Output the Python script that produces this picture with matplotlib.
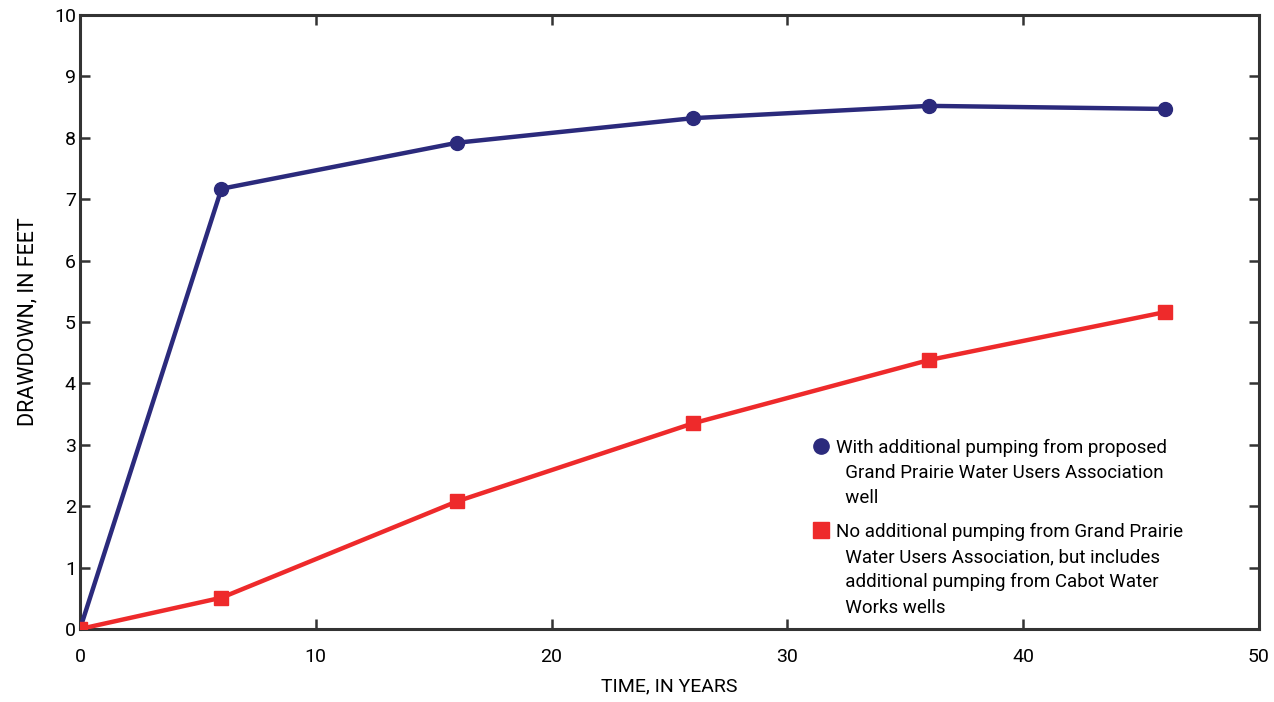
import matplotlib.pyplot as plt
from matplotlib.lines import Line2D

years = [0, 6, 16, 26, 36, 46]
with_gpwua = [0, 7.17, 7.92, 8.32, 8.52, 8.47]
without_gpwua = [0, 0.51, 2.08, 3.35, 4.38, 5.16]

label_with = ["With additional pumping from proposed",
              "  Grand Prairie Water Users Association",
              "  well"]
label_without = ["No additional pumping from Grand Prairie",
                 "  Water Users Association, but includes",
                 "  additional pumping from Cabot Water",
                 "  Works wells"]

navy = "#2b2a7c"
red = "#ee2a2b"

plt.rcParams['font.family'] = ['Roboto', 'DejaVu Sans']

fig = plt.figure(figsize=(12.74, 7.02), dpi=100)
ax = fig.add_axes([80 / 1274, 1 - 629 / 702, (1259 - 80) / 1274, (629 - 15) / 702])

ax.plot(years, with_gpwua, color=navy, lw=3.2, marker='o', ms=10, zorder=3)
ax.plot(years, without_gpwua, color=red, lw=3.2, marker='s', ms=10, zorder=4)

ax.set_xlim(0, 50)
ax.set_ylim(0, 10)
ax.set_xticks(range(0, 51, 10))
ax.set_yticks(range(0, 11))
ax.tick_params(direction='in', length=7, width=1.8, labelsize=14, color='#333333',
               top=True, right=True)
ax.tick_params(axis='x', pad=14)
ax.tick_params(axis='y', pad=3)
for s in ax.spines.values():
    s.set_linewidth(2.2)
    s.set_color('#333333')
ax.set_xlabel("TIME, IN YEARS", fontsize=14, labelpad=8)
ax.set_ylabel("DRAWDOWN, IN FEET", fontsize=15.5, labelpad=11)


def entry_legend(marker, color, lines, top):
    # one row per text line, marker only on the first line
    handles = [Line2D([], [], ls='none', marker=marker, ms=11, color=color)]
    handles += [Line2D([], [], ls='none') for _ in lines[1:]]
    return ax.legend(handles, lines, loc='upper left', bbox_to_anchor=(0.611, top),
                     frameon=False, fontsize=13.5, handletextpad=0.2, handlelength=1.2,
                     labelspacing=0.38, borderpad=0)


leg1 = entry_legend('o', navy, label_with, 0.325)
ax.add_artist(leg1)
entry_legend('s', red, label_without, 0.188)

fig.savefig("out.png", dpi=100)
